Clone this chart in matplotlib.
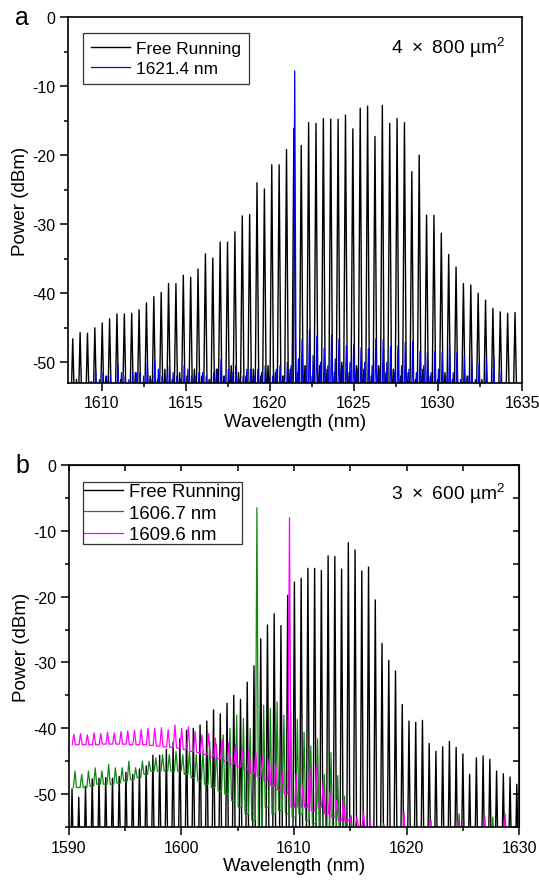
import numpy as np
import matplotlib
matplotlib.use("Agg")
import matplotlib.pyplot as plt
from matplotlib.ticker import MultipleLocator

plt.rcParams['font.family'] = ['Liberation Sans', 'DejaVu Sans']
plt.rcParams['mathtext.fontset'] = 'custom'
plt.rcParams['mathtext.rm'] = 'Liberation Sans'
plt.rcParams['axes.unicode_minus'] = False

# ---- panel a : 4 x 800 um^2, mode comb (nm) ----
a_start = 1608.28
a_step = 0.4384
# peak power of each longitudinal mode (dBm)
a_free = [-46.6, -45.7, -45.8, -45.0, -44.3, -43.7, -43.0, -43.0, -42.9, -42.4,
          -41.4, -40.5, -39.9, -38.6, -38.6, -37.4, -37.7, -36.5, -34.3, -34.9,
          -32.6, -32.6, -31.1, -28.8, -28.6, -24.0, -24.9, -21.4, -21.4, -19.2,
          -16.1, -18.6, -15.3, -15.4, -14.7, -14.8, -14.8, -14.2, -16.2, -13.2,
          -12.9, -17.3, -12.8, -15.4, -14.7, -15.3, -22.4, -20.0, -28.7, -28.7,
          -31.3, -34.4, -36.2, -38.6, -38.8, -40.0, -41.0, -42.2, -42.7, -42.9,
          -42.8]
a_free_mid = [-52.5, -53.5, -52.8, -53.5, -52.0, -53.5, -52.5, -53.0, -51.5, -53.0,
              -52.0, -52.5, -51.0, -52.5, -51.5, -52.0, -51.0, -52.0, -52.5, -51.0,
              -52.0, -50.5, -51.5, -52.0, -51.0, -52.0, -50.5, -51.5, -52.0, -51.0,
              -51.5, -50.5, -52.0, -50.5, -51.0, -51.5, -50.0, -51.5, -50.5, -51.0,
              -52.0, -50.5, -51.5, -51.0, -52.0, -51.5, -52.5, -51.0, -52.0, -52.5,
              -51.5, -52.5, -53.0, -52.0, -53.0, -52.5, -53.0, -53.5, -53.0, -53.5]
a_lock = [-58, -58, -53, -51.0, -51.5, -52, -50.2, -52, -51.5, -51.5,
          -50.0, -49.8, -52, -50.5, -52, -50.5, -52, -51.5, -52, -51.5,
          -49.6, -51, -50.5, -52, -51, -51, -50.5, -52, -50.5, -50.0,
          -7.8, -46.7, -45.2, -46.2, -47.9, -46.0, -46.6, -47.6, -47.4, -47.9,
          -48.0, -46.6, -46.7, -47.7, -47.6, -47.1, -47.0, -48.4, -48.6, -48.4,
          -48.6, -47.6, -48.6, -49.1, -49.6, -50.3, -49.5, -49.1, -51.5, -53,
          -58]
a_lock_mid = [-57, -57, -55, -52.5, -52, -53, -51.5, -52.5, -51.5, -52,
              -52.5, -51, -52, -51.5, -52.5, -51, -52, -51.5, -52.5, -51,
              -52, -51.5, -52.5, -51, -52, -51.5, -52.5, -51, -52, -50.5,
              -49.5, -50.5, -49, -50, -50.5, -49.5, -50.5, -50, -51, -50,
              -50.5, -51, -50, -51.5, -50.5, -51, -51.5, -50.5, -51.5, -51,
              -52, -51.5, -52.5, -52, -52.5, -53, -54, -55, -57, -57]

# ---- panel b : 3 x 600 um^2 ----
b_step = 0.599
b_free_start = 1590.27
b_free = [-49.2, -50.5, -48.8, -47.7, -47.6, -47.5, -47.6, -47.3, -46.7, -47.0,
          -46.2, -45.7, -44.1, -44.1, -43.2, -42.1, -41.6, -40.3, -40.0, -39.5,
          -38.9, -37.2, -37.8, -36.2, -35.0, -35.6, -33.0, -30.5, -26.4, -24.3,
          -22.6, -24.4, -19.8, -17.8, -17.2, -15.7, -15.7, -16.0, -13.8, -13.9,
          -15.8, -11.8, -12.9, -16.1, -15.5, -20.5, -27.1, -29.7, -31.3, -36.4,
          -38.9, -39.1, -38.8, -42.3, -43.5, -42.8, -42.0, -42.9, -43.9, -47.0,
          -44.5, -44.2, -44.7, -46.5, -46.9, -47.4, -48.5]

b_green_start = 1590.53
b_green = [-46.5, -47.0, -46.5, -46.0, -46.5, -45.5, -46.0, -46.0, -45.0, -46.0,
           -45.0, -45.0, -44.5, -44.0, -44.0, -43.5, -44.0, -43.5, -44.0, -43.5,
           -42.0, -42.5, -41.0, -40.0, -38.0, -38.5, -40.0,
           -6.5,
           -36.5, -37.0, -36.0, -38.0, -37.5, -38.6, -40.6, -42.7, -41.6,
           -47.0, -43.7, -47.2, -50.3, -53.3,
           -58, -58, -55, -58, -58, -58, -58, -58, -58, -58,
           -58, -58, -58, -58, -58, -53, -58, -58, -58, -58,
           -53.5, -58, -58, -58, -54]
b_green_valley = [-49.0, -49.0, -48.8, -48.5, -48.5, -48.5, -48.3, -48.0, -47.8, -47.5,
                  -47.0, -46.5, -46.5, -46.5, -46.5, -46.5, -47.0, -47.5, -48.0, -48.5,
                  -49.0, -49.5, -50.0, -51.0, -52.0, -53.0, -54.0,
                  -55,
                  -52, -53, -52.5, -53, -53.5, -53, -54, -54.5, -55,
                  -55, -56, -57, -58, -58] + [-58] * 25

b_mag_start = 1590.43
b_mag = [-40.9, -40.8, -41.0, -40.7, -40.8, -40.6, -40.7, -40.5, -40.4, -40.3,
         -40.2, -40.0, -40.0, -39.9, -40.2, -39.5, -40.0, -39.8, -40.5, -41.0,
         -40.8, -41.5, -41.7, -42.2, -42.5, -43.2, -43.2, -43.7, -44.2, -44.7, -45.5, -46.7,
         -8.0,
         -47.0, -48.7, -46.0, -45.7, -48.0, -49.7, -51.0, -50.8, -53.5, -53.5, -52.8, -54.0,
         -58, -54.5, -58, -58, -52.8, -58, -58, -58, -54, -58, -58,
         -58, -54, -58, -58, -58, -53.5, -58, -58, -53, -58, -57]
b_mag_valley = [-42.5, -42.5, -42.5, -42.5, -42.4, -42.4, -42.4, -42.4, -42.5, -42.5,
                -42.5, -42.6, -42.7, -42.8, -42.9, -43.0, -43.2, -43.5, -43.7, -44.0,
                -44.3, -44.6, -45.0, -45.4, -45.8, -46.3, -46.8, -47.3, -48.0, -48.7, -49.4, -50.0,
                -52,
                -52, -52, -52.5, -52, -53, -53.5, -54, -54, -55, -55, -56, -57] + [-58] * 22


def trace(centres, peaks, valleys, hw):
    # each mode drawn as a narrow spike between the levels on either side
    valleys = np.broadcast_to(np.asarray(valleys, float), (len(peaks),))
    xs, ys = [], []
    for i, (c, p) in enumerate(zip(centres, peaks)):
        vl = valleys[i - 1] if i > 0 else valleys[0]
        xs += [c - hw, c, c + hw]
        ys += [vl, p, valleys[i]]
    return np.array(xs), np.array(ys)


def interleave(start, step, main, mid):
    pos = start + step * np.arange(len(main))
    cx = np.empty(len(main) + len(mid))
    cy = np.empty(len(main) + len(mid))
    cx[0::2], cy[0::2] = pos, main
    cx[1::2], cy[1::2] = pos[:-1] + step / 2, mid
    return cx, cy


fig = plt.figure(figsize=(5.39, 8.87), dpi=100)
ax1 = fig.add_axes([0.1262, 0.5671, 0.8423, 0.4126])
ax2 = fig.add_axes([0.1280, 0.0665, 0.8349, 0.4081])

# panel a
cx, cy = interleave(a_start, a_step, a_free, a_free_mid)
x, y = trace(cx, cy, -58, 0.12)
ax1.plot(x, y, color='black', lw=1.0, label='Free Running')
cx, cy = interleave(a_start + 0.05, a_step, a_lock, a_lock_mid)
x, y = trace(cx, cy, -58, 0.09)
ax1.plot(x, y, color='#0000ff', lw=0.9, label='1621.4 nm')

ax1.set_xlim(1608, 1635)
ax1.set_ylim(-53, 0)
ax1.xaxis.set_major_locator(MultipleLocator(5))
ax1.xaxis.set_minor_locator(MultipleLocator(2.5))
ax1.yaxis.set_major_locator(MultipleLocator(10))
ax1.yaxis.set_minor_locator(MultipleLocator(5))
ax1.tick_params(which='both', direction='out', top=False, right=False, labelsize=11.5)
ax1.tick_params(which='major', length=5.5, width=1.1)
ax1.tick_params(which='minor', length=3, width=1.1)
ax1.set_xlabel('Wavelength (nm)', fontsize=13.5, labelpad=2)
ax1.set_ylabel('Power (dBm)', fontsize=13.5, labelpad=2)
ax1.text(0.963, 0.92, '4\u2002×\u2002800 µm$^\\mathregular{2}$', transform=ax1.transAxes,
         ha='right', va='center', fontsize=13.8)
leg = ax1.legend(loc='upper left', bbox_to_anchor=(0.033, 0.956), borderaxespad=0,
                 fontsize=12.4, handlelength=2.25, handletextpad=0.4, labelspacing=0.32,
                 fancybox=False, framealpha=1, borderpad=0.45)
leg.get_frame().set_edgecolor('#333333')
leg.get_frame().set_linewidth(0.9)

# panel b
x, y = trace(b_free_start + b_step * np.arange(len(b_free)), b_free, -62, 0.15)
ax2.plot(x, y, color='black', lw=1.0, label='Free Running')
x, y = trace(b_green_start + b_step * np.arange(len(b_green)), b_green, b_green_valley, 0.14)
ax2.plot(x, y, color='#118811', lw=0.9, label='1606.7 nm')
x, y = trace(b_mag_start + b_step * np.arange(len(b_mag)), b_mag, b_mag_valley, 0.14)
ax2.plot(x, y, color='#ff00ff', lw=0.9, label='1609.6 nm')

ax2.set_xlim(1590, 1630)
ax2.set_ylim(-55, 0)
ax2.xaxis.set_major_locator(MultipleLocator(10))
ax2.xaxis.set_minor_locator(MultipleLocator(5))
ax2.yaxis.set_major_locator(MultipleLocator(10))
ax2.yaxis.set_minor_locator(MultipleLocator(5))
ax2.tick_params(which='both', direction='out', labelsize=11.5)
ax2.tick_params(which='major', length=5.5, width=1.1)
ax2.tick_params(which='minor', length=3, width=1.1)
ax2.set_xlabel('Wavelength (nm)', fontsize=13.5, labelpad=2)
ax2.set_ylabel('Power (dBm)', fontsize=13.5, labelpad=2)
# mirrored inward ticks on top and right
top = ax2.secondary_xaxis('top')
top.xaxis.set_major_locator(MultipleLocator(5))
top.tick_params(direction='in', length=4, width=1.1, labeltop=False)
right = ax2.secondary_yaxis('right')
right.yaxis.set_major_locator(MultipleLocator(5))
right.tick_params(direction='in', length=4, width=1.1, labelright=False)
ax2.text(0.969, 0.925, '3\u2002×\u2002600 µm$^\\mathregular{2}$', transform=ax2.transAxes,
         ha='right', va='center', fontsize=13.8)
leg = ax2.legend(loc='upper left', bbox_to_anchor=(0.031, 0.953), borderaxespad=0,
                 fontsize=13.3, handlelength=2.1, handletextpad=0.35, labelspacing=0.25,
                 fancybox=False, framealpha=1, borderpad=0.05)
leg.get_frame().set_edgecolor('#333333')
leg.get_frame().set_linewidth(0.9)

for ax in (ax1, ax2):
    for s in ax.spines.values():
        s.set_linewidth(1.2)

fig.text(22 / 539, 1 - 18 / 887, 'a', fontsize=18, ha='center', va='center')
fig.text(22 / 539, 1 - 466 / 887, 'b', fontsize=18, ha='center', va='center')

fig.savefig('out.png', dpi=100)
